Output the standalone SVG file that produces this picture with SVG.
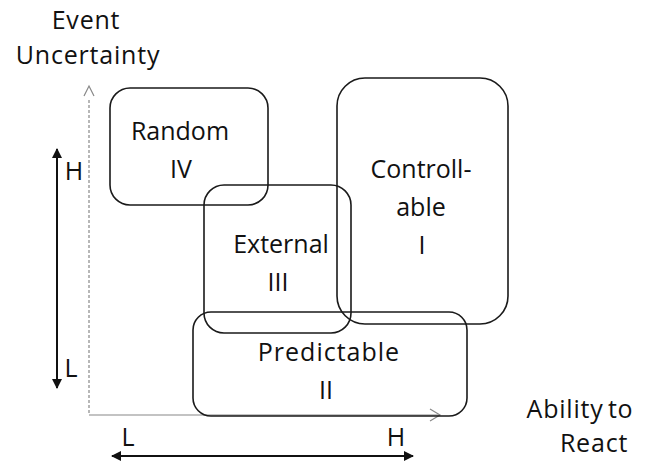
<svg xmlns="http://www.w3.org/2000/svg" width="657" height="462" viewBox="0 0 657 462">
  <defs>
    <style>
      text { font-family: "Open Sans", "Liberation Sans", sans-serif; font-size: 25px; fill: #111; text-anchor: middle; }
      .title { font-size: 25px; letter-spacing: 0.8px; }
      .box { fill: none; stroke: #1a1a1a; stroke-width: 1.6; }
      .axis { fill: none; stroke: #888; stroke-width: 1.2; }
      .dbl { fill: none; stroke: #111; stroke-width: 2; }
    </style>
    <marker id="head" viewBox="0 0 10 10" refX="9" refY="5" markerWidth="5" markerHeight="5" orient="auto-start-reverse">
      <path d="M0,0 L10,5 L0,10 Z" fill="#111"/>
    </marker>
  </defs>
  <rect width="657" height="462" fill="#fff"/>

  <!-- axis titles -->
  <text class="title" x="86" y="29">Event</text>
  <text class="title" x="88" y="64">Uncertainty</text>
  <text class="title" x="580" y="418" word-spacing="-3">Ability to</text>
  <text class="title" x="594" y="452">React</text>

  <!-- axes and scale arrows -->
  <g id="connectors">
    <line class="axis" x1="89" y1="100" x2="89" y2="415" stroke-dasharray="3 2"/>
    <polyline class="axis" points="84,96 89,86 94,96" stroke="#333"/>
    <line class="axis" x1="89" y1="415" x2="440" y2="415" stroke="#555"/>
    <polyline class="axis" points="430,409 440,415 430,421" stroke="#333"/>
    <line class="dbl" x1="57" y1="149" x2="57" y2="388" marker-start="url(#head)" marker-end="url(#head)"/>
    <line class="dbl" x1="112" y1="456" x2="413" y2="456" marker-start="url(#head)" marker-end="url(#head)"/>
  </g>

  <!-- scale labels -->
  <text x="74" y="180">H</text>
  <text x="71" y="377">L</text>
  <text x="128" y="446">L</text>
  <text x="396" y="446">H</text>

  <g id="random">
    <rect class="box" x="110" y="88" width="158" height="117" rx="20"/>
    <text x="180" y="140">Random</text>
    <text x="181" y="178">IV</text>
  </g>
  <g id="external">
    <rect class="box" x="204" y="185" width="147" height="148" rx="20"/>
    <text x="281" y="253">External</text>
    <text x="278" y="291">III</text>
  </g>
  <g id="controllable">
    <rect class="box" x="337" y="78" width="171" height="246" rx="28"/>
    <text x="421" y="178">Controll-</text>
    <text x="421" y="216">able</text>
    <text x="422" y="254">I</text>
  </g>
  <g id="predictable">
    <rect class="box" x="193" y="312" width="274" height="104" rx="18"/>
    <text x="329" y="361" letter-spacing="1">Predictable</text>
    <text x="326" y="399">II</text>
  </g>
</svg>
